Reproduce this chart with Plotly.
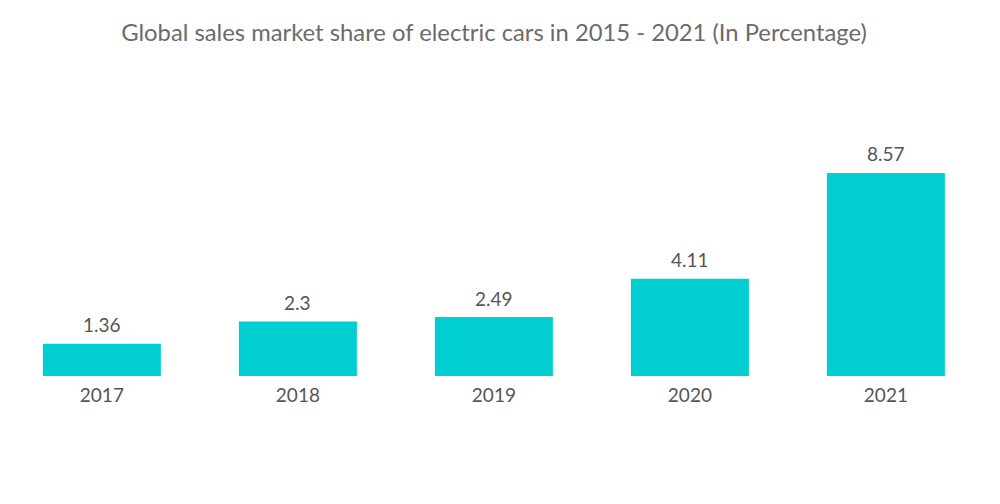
import plotly.graph_objects as go

years = ["2017", "2018", "2019", "2020", "2021"]
shares = [1.36, 2.3, 2.49, 4.11, 8.57]
labels = ["1.36", "2.3", "2.49", "4.11", "8.57"]

fig = go.Figure(go.Bar(
    x=years, y=shares,
    marker=dict(color="#00CED1", line=dict(width=0)),
))
for i, (v, lab) in enumerate(zip(shares, labels)):
    fig.add_annotation(x=i, y=v, text=lab, showarrow=False,
                       yanchor="middle", yshift=19,
                       font=dict(family="Lato", size=19, color="#555555"))
fig.update_layout(
    width=1000, height=504,
    paper_bgcolor="white", plot_bgcolor="white",
    title=dict(text="Global sales market share of electric cars in 2015 - 2021 (In Percentage)",
               x=0.486, xanchor="center", y=0.952, yanchor="middle",
               font=dict(family="Lato", size=23.8, color="#6b6b6b")),
    margin=dict(l=0, r=0, t=92, b=136, autoexpand=False),
    bargap=0.398,
    showlegend=False,
)
fig.update_xaxes(type="category", showgrid=False, showline=False, ticks="outside", ticklen=2,
                 tickcolor="rgba(0,0,0,0)", range=[-0.479, 4.623],
                 tickfont=dict(family="Lato", size=19, color="#555555"))
fig.update_yaxes(visible=False, range=[0, 11.65])
fig.write_html("out.html")
